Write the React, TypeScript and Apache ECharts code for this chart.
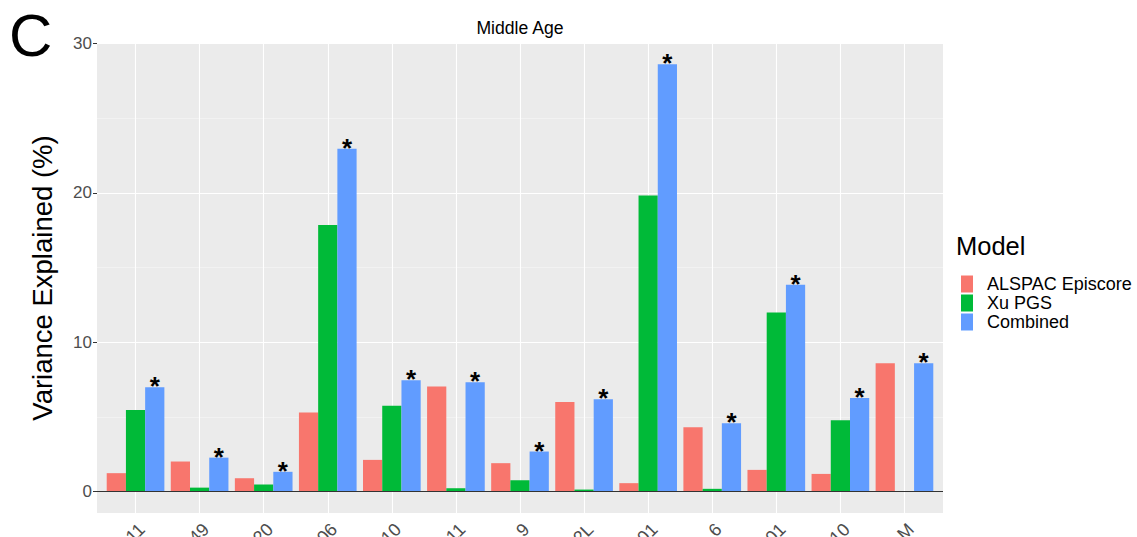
import React, { useEffect, useRef } from "react";
import * as echarts from "echarts";

const categories = ["11", "49", "20", "06", "10", "11", "9", "2L", "01", "6", "01", "10", "M"];
const alspacEpiscore = [1.22, 2.0, 0.88, 5.28, 2.11, 7.02, 1.89, 5.99, 0.55, 4.3, 1.44, 1.17, 8.59];
const xuPGS = [5.46, 0.25, 0.46, 17.85, 5.73, 0.21, 0.75, 0.12, 19.83, 0.17, 11.98, 4.77, 0];
const combined = [6.98, 2.26, 1.31, 22.97, 7.45, 7.31, 2.67, 6.18, 28.63, 4.57, 13.85, 6.26, 8.59];
const significant = [true, true, true, true, true, true, true, true, true, true, true, true, true];
const majorTicks = [0, 10, 20, 30];
const minorTicks = [5, 15, 25];

const FONT = "'Liberation Sans', Arial, sans-serif";
const COLORS = ["#F8766D", "#00BA38", "#619CFF"];

export default function App() {
  const ref = useRef<HTMLDivElement>(null);
  useEffect(() => {
    if (!ref.current) return;
    const chart = echarts.init(ref.current, undefined, { renderer: "svg" });
    const yMin = -1.45;
    const yMax = 30.05;
    const option: any = {
      animation: false,
      textStyle: { fontFamily: FONT },
      graphic: [
        { type: "text", x: 9, y: 35, style: { text: "C", font: `60px ${FONT}`, fill: "#000", textVerticalAlign: "middle", textAlign: "left" } },
        { type: "text", x: 520, y: 28, style: { text: "Middle Age", font: `17.6px ${FONT}`, fill: "#000", textVerticalAlign: "middle", textAlign: "center" } },
        { type: "text", x: 956, y: 246, style: { text: "Model", font: `25.5px ${FONT}`, fill: "#000", textVerticalAlign: "middle", textAlign: "left" } },
      ],
      legend: {
        orient: "vertical",
        left: 956,
        top: 270,
        itemWidth: 12,
        itemHeight: 17,
        itemGap: 1,
        icon: "rect",
        selectedMode: false,
        textStyle: { fontSize: 18, color: "#000", fontFamily: FONT, padding: [0, 0, 0, 9], lineHeight: 17 },
        data: ["ALSPAC Episcore", "Xu PGS", "Combined"],
      },
      grid: [
        { left: 97, top: 43, width: 846, height: 470, show: true, backgroundColor: "#EBEBEB", borderWidth: 0, containLabel: false, outerBoundsMode: "none" },
        { left: 103.5, top: 43, width: 833, height: 470, containLabel: false, outerBoundsMode: "none" },
      ],
      xAxis: [
        { gridIndex: 0, type: "value", min: 0, max: 1, show: false },
        {
          gridIndex: 1,
          type: "category",
          data: categories,
          axisLine: { show: false },
          axisTick: { show: true, alignWithLabel: true, length: 4, lineStyle: { color: "#333333" } },
          axisLabel: {
            rotate: 45,
            interval: 0,
            fontSize: 18,
            color: "#4D4D4D",
            margin: 7,
            fontFamily: FONT,
            align: "right",
            verticalAlign: "top",
          },
          splitLine: { show: false },
        },
      ],
      yAxis: [
        {
          gridIndex: 0,
          type: "value",
          min: yMin,
          max: yMax,
          axisLine: { show: false },
          axisTick: { show: true, length: 4, customValues: majorTicks, lineStyle: { color: "#333333" } },
          axisLabel: { customValues: majorTicks, fontSize: 17, color: "#4D4D4D", margin: 5, fontFamily: FONT },
          splitLine: { show: false },
          name: "Variance Explained (%)",
          nameLocation: "middle",
          nameGap: 41,
          nameTextStyle: { fontSize: 27.5, color: "#000", fontFamily: FONT },
        },
        { gridIndex: 1, type: "value", min: yMin, max: yMax, show: false },
      ],
      series: [
        {
          type: "line",
          xAxisIndex: 0,
          yAxisIndex: 0,
          data: [],
          z: 1,
          silent: true,
          markLine: {
            z: 1,
            silent: true,
            symbol: "none",
            label: { show: false },
            animation: false,
            data: [
              ...minorTicks.map((v) => ({ yAxis: v, lineStyle: { color: "#F7F7F7", width: 0.6, type: "solid" } })),
              ...majorTicks.map((v) => ({ yAxis: v, lineStyle: { color: "#FFFFFF", width: 1.1, type: "solid" } })),
            ],
          },
        },
        {
          type: "line",
          xAxisIndex: 1,
          yAxisIndex: 1,
          data: [],
          z: 1,
          silent: true,
          markLine: {
            z: 1,
            silent: true,
            symbol: "none",
            label: { show: false },
            animation: false,
            data: categories.map((_, i) => ({ xAxis: i, lineStyle: { color: "#FFFFFF", width: 1.1, type: "solid" } })),
          },
        },
        {
          name: "ALSPAC Episcore",
          type: "bar",
          xAxisIndex: 1,
          yAxisIndex: 1,
          data: alspacEpiscore,
          itemStyle: { color: COLORS[0] },
          barGap: "0%",
          barCategoryGap: "10%",
          z: 3,
        },
        {
          name: "Xu PGS",
          type: "bar",
          xAxisIndex: 1,
          yAxisIndex: 1,
          data: xuPGS,
          itemStyle: { color: COLORS[1] },
          barGap: "0%",
          barCategoryGap: "10%",
          z: 3,
        },
        {
          name: "Combined",
          type: "bar",
          xAxisIndex: 1,
          yAxisIndex: 1,
          data: combined.map((v, i) => ({
            value: v,
            label: { show: significant[i] },
          })),
          itemStyle: { color: COLORS[2] },
          barGap: "0%",
          barCategoryGap: "10%",
          z: 3,
          label: {
            show: true,
            position: "top",
            formatter: "*",
            fontSize: 26,
            fontWeight: "bold",
            color: "#000",
            distance: -12,
            fontFamily: FONT,
          },
        },
        {
          type: "line",
          xAxisIndex: 0,
          yAxisIndex: 0,
          data: [],
          z: 10,
          silent: true,
          markLine: {
            z: 10,
            silent: true,
            symbol: "none",
            label: { show: false },
            animation: false,
            data: [{ yAxis: 0, lineStyle: { color: "#333333", width: 1, type: "solid" } }],
          },
        },
      ],
    };
    chart.setOption(option);
    return () => chart.dispose();
  }, []);
  return (
    <div style={{ position: "fixed", left: 0, top: 0, width: 1137, height: 537, overflow: "hidden", background: "#fff" }}>
      <div ref={ref} style={{ width: 1137, height: 537 }} />
    </div>
  );
}
